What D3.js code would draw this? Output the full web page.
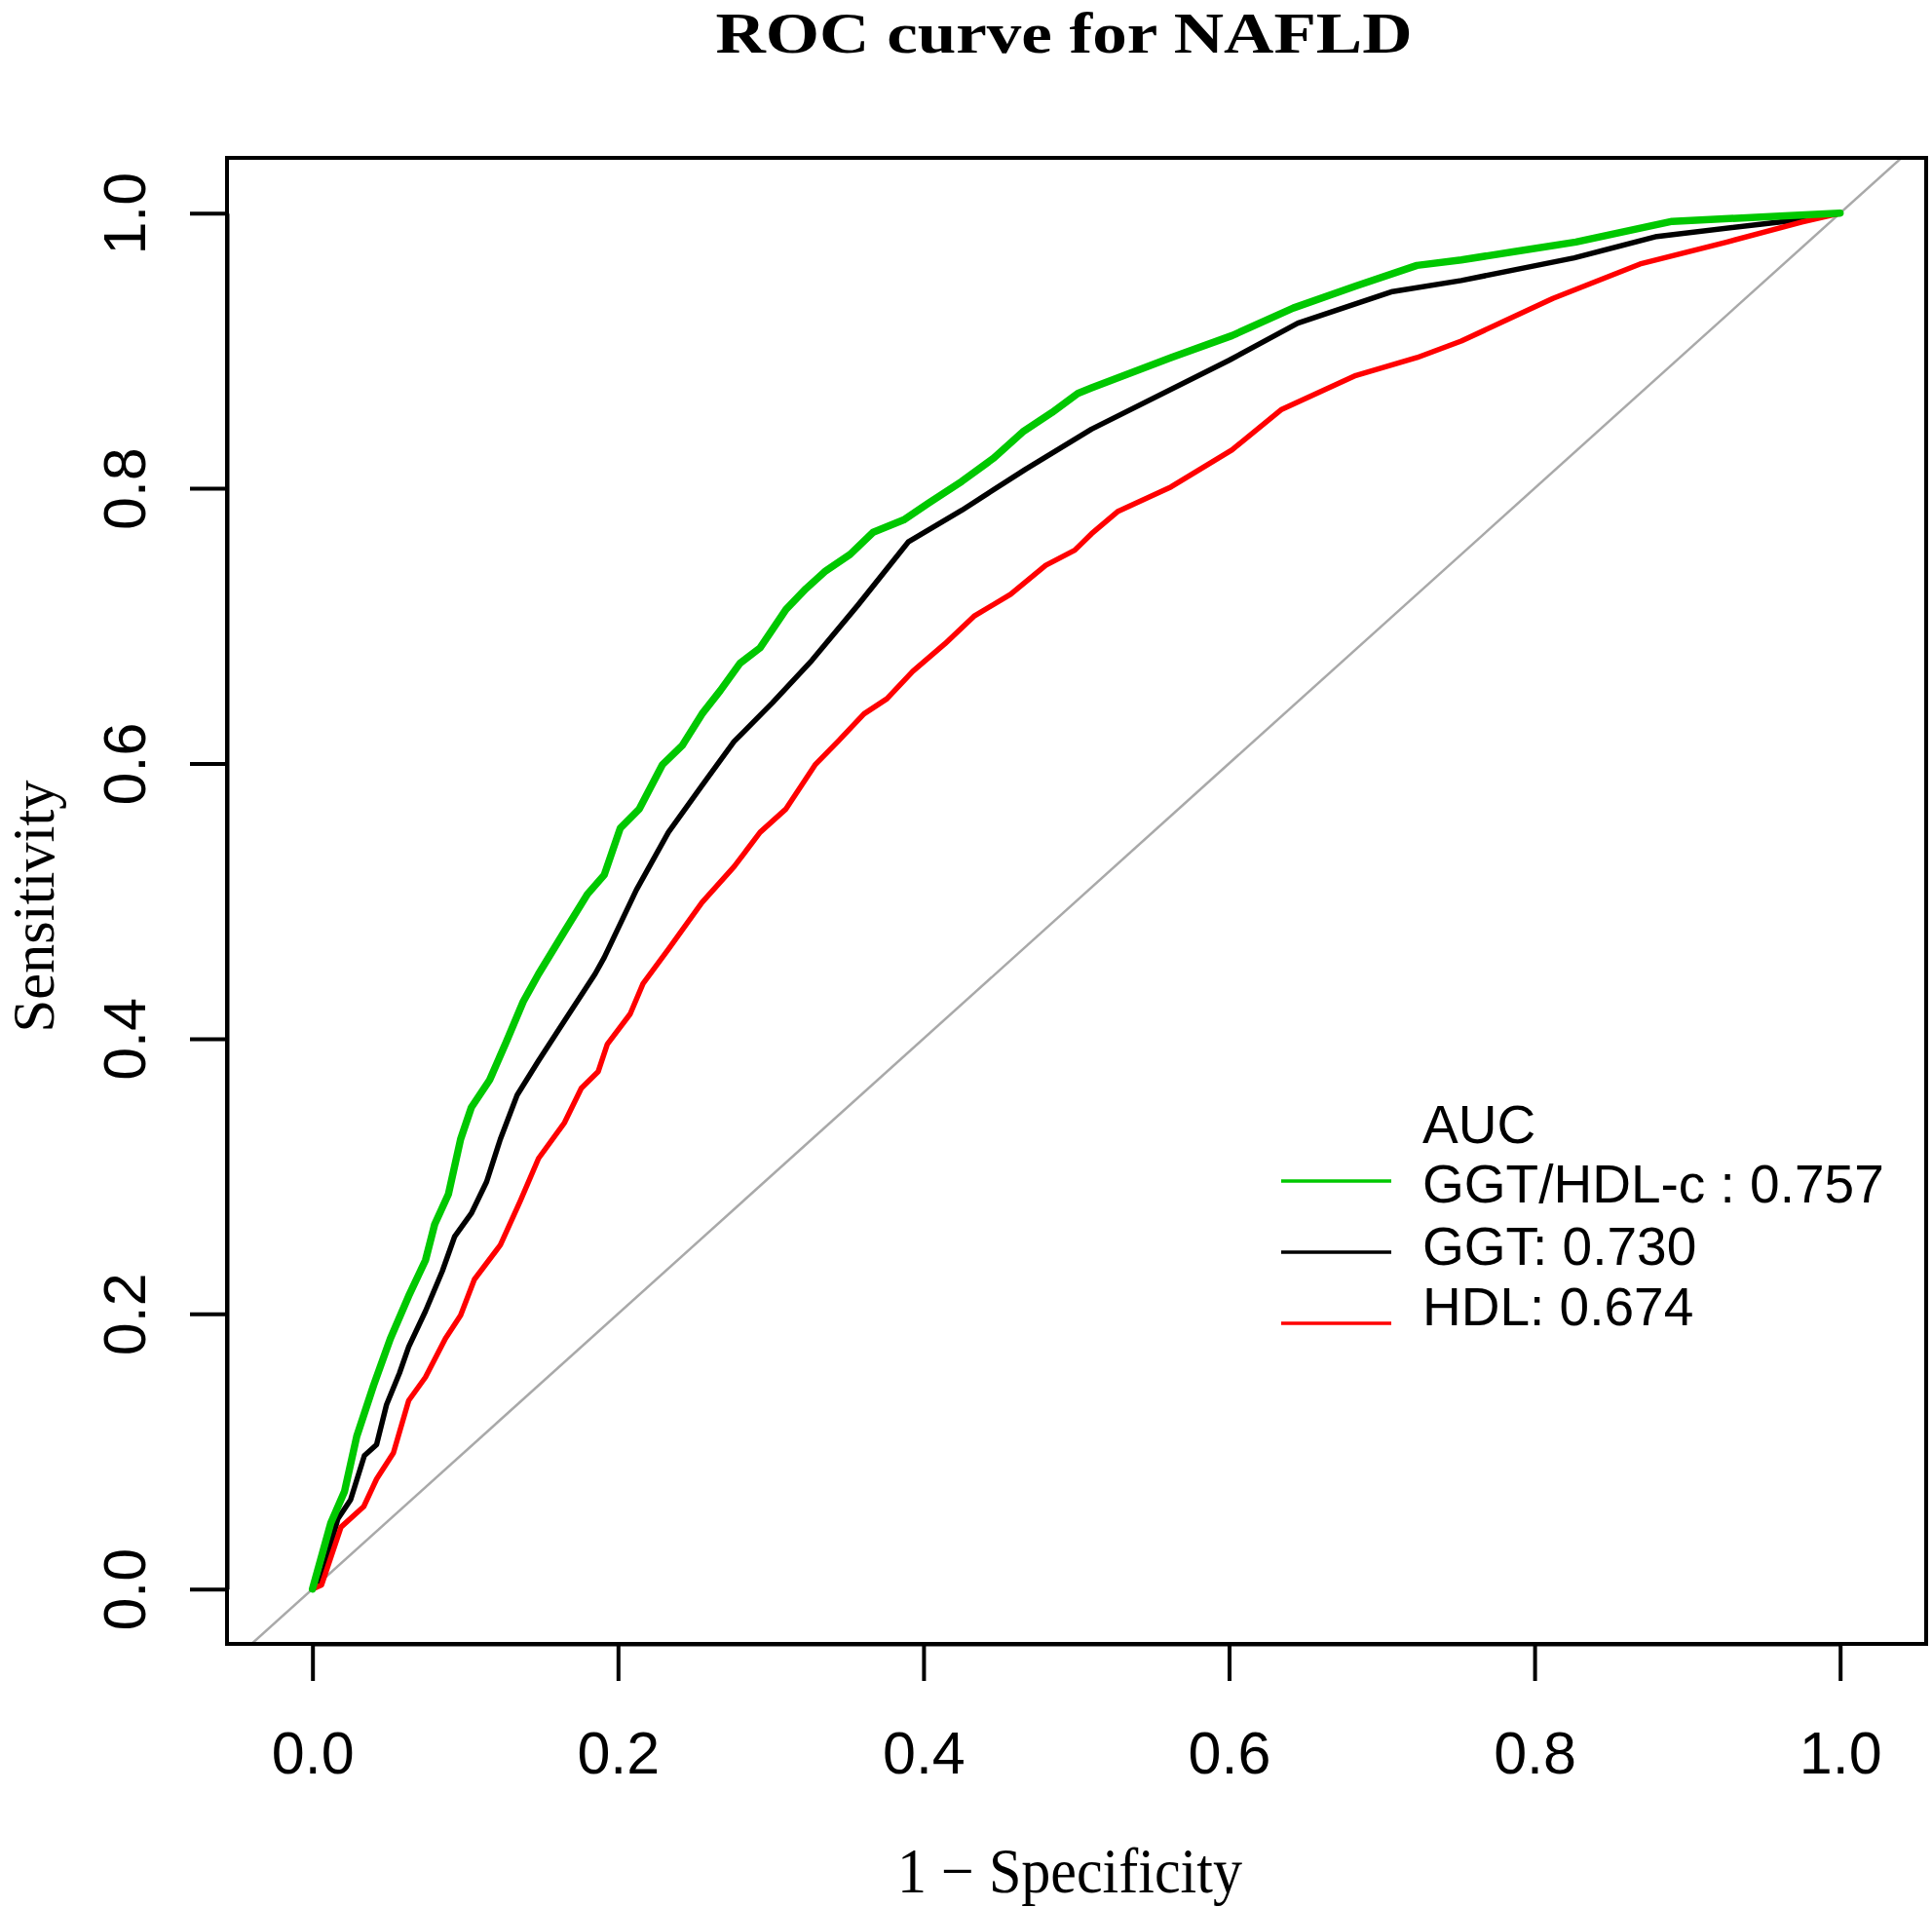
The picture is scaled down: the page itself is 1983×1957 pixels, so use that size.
<!DOCTYPE html>
<html>
<head>
<meta charset="utf-8">
<script src="https://cdn.jsdelivr.net/npm/d3@7"></script>
<style>
  body { margin: 0; background: #fff; }
  svg { display: block; }
</style>
</head>
<body>
<div id="chart"></div>
<script>
// ROC curves: [1 - specificity, sensitivity]
const ratioRoc = [
  [0,0],[0.012,0.048],[0.021,0.071],[0.029,0.111],[0.040,0.148],[0.051,0.182],
  [0.063,0.213],[0.074,0.239],[0.080,0.265],[0.089,0.287],[0.097,0.327],[0.104,0.350],
  [0.116,0.370],[0.127,0.398],[0.138,0.427],[0.148,0.447],[0.165,0.478],[0.180,0.505],
  [0.191,0.519],[0.2015,0.553],[0.214,0.567],[0.229,0.599],[0.242,0.613],[0.255,0.636],
  [0.267,0.653],[0.280,0.673],[0.293,0.684],[0.310,0.712],[0.323,0.727],[0.336,0.740],
  [0.352,0.752],[0.367,0.768],[0.387,0.777],[0.403,0.789],[0.425,0.805],[0.446,0.822],
  [0.465,0.841],[0.484,0.855],[0.501,0.869],[0.510,0.873],[0.562,0.895],[0.602,0.911],
  [0.642,0.931],[0.683,0.947],[0.723,0.962],[0.752,0.966],[0.827,0.979],[0.890,0.994],
  [0.964,0.998],[1,1]
];
const ggtRoc = [
  [0,0],[0.006,0.008],[0.0166,0.051],[0.025,0.065],[0.034,0.097],[0.042,0.105],
  [0.0485,0.134],[0.057,0.157],[0.063,0.176],[0.074,0.202],[0.085,0.231],[0.093,0.256],
  [0.104,0.273],[0.114,0.296],[0.123,0.327],[0.134,0.359],[0.148,0.384],[0.165,0.413],
  [0.185,0.447],[0.191,0.459],[0.212,0.508],[0.233,0.550],[0.255,0.584],[0.276,0.616],
  [0.301,0.644],[0.327,0.675],[0.357,0.715],[0.390,0.761],[0.425,0.784],[0.467,0.814],
  [0.510,0.843],[0.600,0.893],[0.645,0.920],[0.707,0.943],[0.752,0.951],[0.826,0.9675],
  [0.880,0.983],[0.964,0.994],[1,1]
];
const hdlRoc = [
  [0,0],[0.006,0.003],[0.0187,0.045],[0.0336,0.060],[0.042,0.080],[0.053,0.099],
  [0.063,0.137],[0.074,0.154],[0.087,0.182],[0.097,0.199],[0.106,0.225],[0.123,0.250],
  [0.136,0.282],[0.148,0.313],[0.165,0.339],[0.176,0.364],[0.187,0.376],[0.193,0.396],
  [0.208,0.418],[0.2164,0.440],[0.233,0.465],[0.255,0.499],[0.276,0.525],[0.293,0.550],
  [0.310,0.567],[0.329,0.599],[0.344,0.616],[0.361,0.636],[0.376,0.647],[0.393,0.667],
  [0.414,0.687],[0.433,0.707],[0.457,0.723],[0.480,0.744],[0.499,0.755],[0.510,0.767],
  [0.527,0.783],[0.562,0.801],[0.602,0.828],[0.634,0.857],[0.683,0.882],[0.723,0.895],
  [0.752,0.907],[0.812,0.938],[0.869,0.963],[0.926,0.979],[0.975,0.9935],[1,1]
];

const seriesNames  = ['GGT/HDL-c', 'GGT', 'HDL'];
const seriesAuc    = ['0.757', '0.730', '0.674'];
const seriesLabels = ['GGT/HDL-c : 0.757', 'GGT: 0.730', 'HDL: 0.674'];
const seriesColors = ['#00c800', '#000000', '#ff0000'];
const tickValues   = [0, 0.2, 0.4, 0.6, 0.8, 1.0];

// 画布
const W = 1983, H = 1957;
const box = {left: 233, right: 1977, top: 162, bottom: 1687};

const svg = d3.select('#chart').append('svg')
  .attr('width', W).attr('height', H);

const x = d3.scaleLinear().domain([0, 1]).range([320.7, 1888.7]);
const y = d3.scaleLinear().domain([0, 1]).range([1630.7, 218.7]);

svg.append('clipPath').attr('id', 'plotclip')
  .append('rect')
  .attr('x', box.left).attr('y', box.top)
  .attr('width', box.right - box.left).attr('height', box.bottom - box.top);

// 对角线
const diag = [[x.invert(box.left) - 0.1, x.invert(box.left) - 0.1],
              [x.invert(box.right) + 0.1, x.invert(box.right) + 0.1]];
svg.append('path')
  .attr('clip-path', 'url(#plotclip)')
  .attr('d', d3.line().x(d => x(d[0])).y(d => y(d[1]))(diag))
  .attr('stroke', '#a9a9a9').attr('stroke-width', 2.5).attr('fill', 'none');

// 曲线
const line = d3.line().x(d => x(d[0])).y(d => y(d[1]));
const curves = [
  {data: ggtRoc,   color: seriesColors[1], w: 5.5},
  {data: hdlRoc,   color: seriesColors[2], w: 5.5},
  {data: ratioRoc, color: seriesColors[0], w: 7.5}
];
svg.append('g').attr('clip-path', 'url(#plotclip)')
  .selectAll('path').data(curves).join('path')
  .attr('d', d => line(d.data))
  .attr('fill', 'none')
  .attr('stroke', d => d.color)
  .attr('stroke-width', d => d.w)
  .attr('stroke-linejoin', 'round')
  .attr('stroke-linecap', 'round');

// 坐标轴
const xAxis = svg.append('g')
  .attr('transform', `translate(0,${box.bottom})`)
  .call(d3.axisBottom(x).tickValues(tickValues).tickFormat(d3.format('.1f'))
    .tickSize(38).tickSizeOuter(0).tickPadding(50));
xAxis.selectAll('line').attr('stroke', '#000').attr('stroke-width', 4);
xAxis.select('.domain').attr('stroke', '#000').attr('stroke-width', 4);
xAxis.selectAll('text')
  .attr('font-family', 'Liberation Sans, Arial, sans-serif')
  .attr('font-size', 61).attr('fill', '#000')
  .attr('y', 133).attr('dy', 0);

const yAxis = svg.append('g')
  .attr('transform', `translate(${box.left},0)`)
  .call(d3.axisLeft(y).tickValues(tickValues).tickFormat(d3.format('.1f'))
    .tickSize(38).tickSizeOuter(0));
yAxis.selectAll('line').attr('stroke', '#000').attr('stroke-width', 4);
yAxis.select('.domain').attr('stroke', '#000').attr('stroke-width', 4);
yAxis.selectAll('text')
  .attr('font-family', 'Liberation Sans, Arial, sans-serif')
  .attr('font-size', 61).attr('fill', '#000')
  .attr('transform', 'rotate(-90)')
  .attr('text-anchor', 'middle')
  .attr('x', 0).attr('y', -84).attr('dy', 0);

// 边框
svg.append('rect')
  .attr('x', box.left).attr('y', box.top)
  .attr('width', box.right - box.left).attr('height', box.bottom - box.top)
  .attr('fill', 'none').attr('stroke', '#000').attr('stroke-width', 4);

// 标题和轴标签
svg.append('text')
  .attr('x', 1092).attr('y', 54)
  .attr('text-anchor', 'middle')
  .attr('font-family', 'Liberation Serif, Times New Roman, serif')
  .attr('font-weight', 'bold').attr('font-size', 60)
  .attr('textLength', 715).attr('lengthAdjust', 'spacingAndGlyphs')
  .text('ROC curve for NAFLD');

svg.append('text')
  .attr('x', 1098).attr('y', 1942)
  .attr('text-anchor', 'middle')
  .attr('font-family', 'Liberation Serif, Times New Roman, serif')
  .attr('font-size', 65)
  .attr('textLength', 354).attr('lengthAdjust', 'spacingAndGlyphs')
  .text('1 \u2212 Specificity');

svg.append('text')
  .attr('transform', 'translate(55,930) rotate(-90)')
  .attr('text-anchor', 'middle')
  .attr('font-family', 'Liberation Serif, Times New Roman, serif')
  .attr('font-size', 61)
  .attr('textLength', 259).attr('lengthAdjust', 'spacingAndGlyphs')
  .text('Sensitivity');

// 图例
const legend = svg.append('g')
  .attr('font-family', 'Liberation Sans, Arial, sans-serif')
  .attr('font-size', 55);
legend.append('text').attr('x', 1460).attr('y', 1173).text('AUC');
const legLineY = [1212, 1285, 1358];
const legTextY = [1234, 1298, 1360];
seriesLabels.forEach((lab, i) => {
  legend.append('line')
    .attr('x1', 1315).attr('x2', 1428)
    .attr('y1', legLineY[i]).attr('y2', legLineY[i])
    .attr('stroke', seriesColors[i]).attr('stroke-width', 3.5);
  legend.append('text')
    .attr('x', 1460).attr('y', legTextY[i])
    .text(lab);
});
</script>
</body>
</html>
